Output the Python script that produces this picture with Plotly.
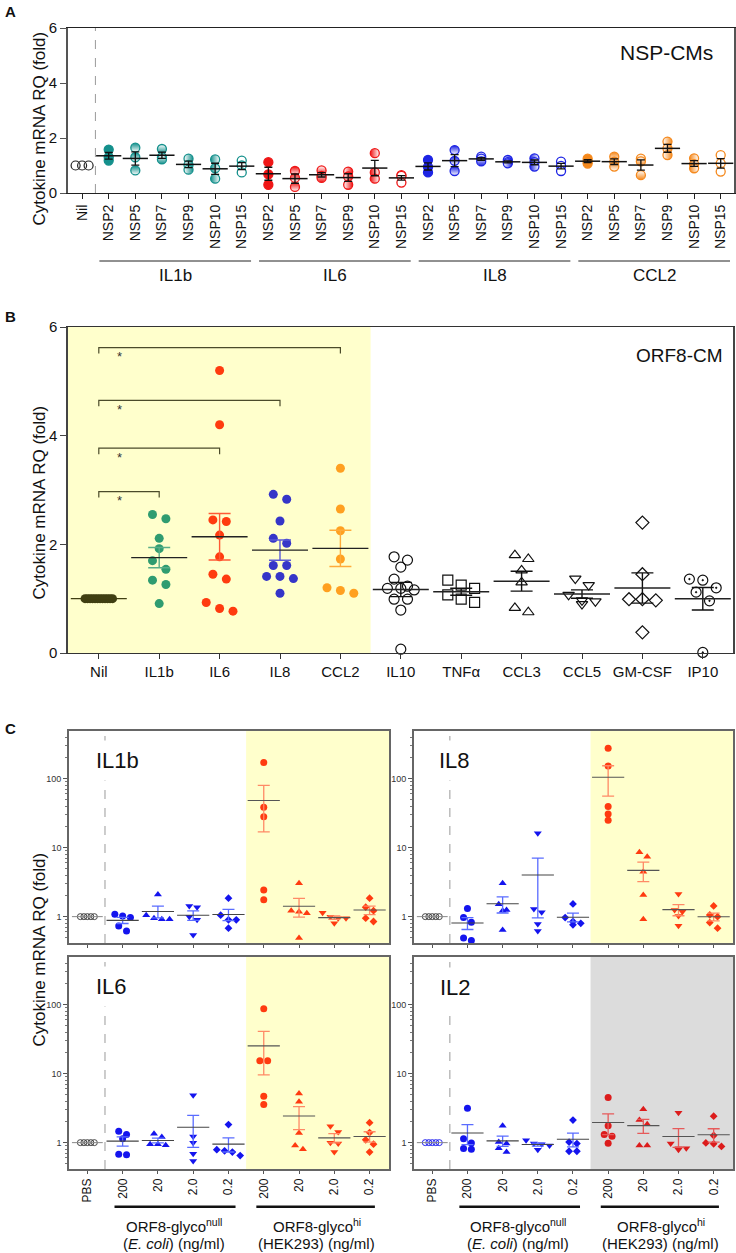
import numpy as np
import plotly.graph_objects as go

W, H = 736, 1253
FONT = "Liberation Sans, Arial, Helvetica, sans-serif"
NARROW = "Liberation Sans Narrow, Arial Narrow, Liberation Sans, sans-serif"

# ---------------- Panel A data ----------------
a_groups = ["IL1b", "IL6", "IL8", "CCL2"]
a_nsps = ["NSP2", "NSP5", "NSP7", "NSP9", "NSP10", "NSP15"]
a_nil = [1.0, 1.0, 1.0]
a_il1b = [[1.58, 1.30, 1.18], [1.65, 1.30, 0.82], [1.60, 1.30, 1.22],
          [1.25, 1.02, 0.85], [1.22, 0.90, 0.52], [1.18, 1.00, 0.75]]
a_il6 = [[1.12, 0.68, 0.30], [0.80, 0.55, 0.22], [0.82, 0.62, 0.55],
         [0.78, 0.60, 0.30], [1.45, 0.75, 0.52], [0.65, 0.62, 0.38]]
a_il8 = [[1.20, 0.95, 0.75], [1.56, 1.17, 0.80], [1.32, 1.25, 1.15],
         [1.20, 1.12, 1.08], [1.26, 1.12, 0.96], [1.14, 0.99, 0.80]]
a_ccl2 = [[1.25, 1.15, 1.07], [1.32, 1.14, 0.96], [1.25, 1.15, 0.65],
          [1.87, 1.62, 1.38], [1.26, 1.05, 0.90], [1.38, 1.08, 0.78]]
a_values = [a_il1b, a_il6, a_il8, a_ccl2]
a_colors = ["#14908c", "#ef1616", "#1d24e4", "#f5891d"]
a_fills = ["full", "top", "bottom", "left", "right", "open"]

# ---------------- Panel B data ----------------
b_labels = ["Nil", "IL1b", "IL6", "IL8", "CCL2", "IL10", "TNFα", "CCL3", "CCL5", "GM-CSF", "IP10"]
b_nil = [1.0] * 12
b_il1b = [2.55, 2.47, 2.11, 1.92, 1.70, 1.54, 1.34, 1.26, 0.91]
b_il6 = [5.20, 4.20, 2.45, 2.42, 2.17, 1.77, 1.45, 1.36, 0.93, 0.82, 0.77]
b_il8 = [2.92, 2.83, 2.43, 2.11, 2.02, 1.61, 1.61, 1.41, 1.41, 1.37, 1.10]
b_ccl2 = [3.40, 2.65, 2.25, 1.73, 1.20, 1.15, 1.10]
b_il10 = [1.77, 1.71, 1.58, 1.36, 1.23, 1.19, 1.19, 1.16, 0.99, 0.99, 0.79, 0.07]
b_tnfa = [1.34, 1.25, 1.19, 1.07, 0.99, 0.93]
b_ccl3 = [1.80, 1.73, 1.52, 1.30, 0.83, 0.75]
b_ccl5 = [1.37, 1.25, 1.07, 0.97, 0.95, 0.90]
b_gmcsf = [2.40, 1.45, 0.99, 0.97, 0.99, 0.38]
b_ip10 = [1.36, 1.34, 1.20, 1.12, 0.96, 0.01]
b_values = [b_nil, b_il1b, b_il6, b_il8, b_ccl2, b_il10, b_tnfa, b_ccl3, b_ccl5, b_gmcsf, b_ip10]
b_sig_heights = [2.97, 3.77, 4.65, 5.62]   # Nil vs IL1b, IL6, IL8, CCL2
b_sig_targets = [1, 2, 3, 4]

# ---------------- Panel C data ----------------
c_ticks = ["PBS", "200", "20", "2.0", "0.2", "200", "20", "2.0", "0.2"]
c_pbs = [1.0] * 5
c_il1b_ecoli = [[1.02, 0.97, 1.08, 0.62, 0.73], [2.10, 1.05, 0.92, 0.92, 0.95],
                [1.37, 1.43, 1.00, 0.90, 0.54], [1.85, 1.05, 0.90, 0.90, 0.68]]
c_il1b_hek = [[170.6, 38.5, 28.1, 2.44, 1.75], [3.05, 1.18, 1.12, 1.22, 0.49],
              [1.14, 0.95, 0.95, 1.00, 0.80], [1.85, 1.37, 1.22, 0.95, 0.85]]
c_il8_ecoli = [[1.31, 0.97, 0.83, 0.45, 0.49], [3.05, 1.25, 1.22, 1.51, 0.64],
               [16.2, 1.29, 1.16, 0.78, 0.62], [1.53, 0.97, 0.85, 0.76, 0.80]]
c_il8_hek = [[276.0, 152.6, 39.3, 30.8, 24.9], [8.57, 7.40, 4.49, 2.06, 0.92],
             [2.13, 1.18, 1.25, 1.02, 0.74], [1.43, 1.06, 1.00, 0.82, 0.68]]
c_il6_ecoli = [[1.31, 1.14, 1.46, 0.67, 0.68], [1.35, 1.21, 0.95, 0.92, 0.95],
               [4.88, 1.23, 1.00, 0.69, 0.54], [1.83, 0.79, 0.76, 0.73, 0.65]]
c_il6_hek = [[87.3, 15.4, 15.4, 4.72, 3.57], [5.17, 3.90, 1.38, 0.80, 0.91],
             [1.73, 1.43, 1.00, 0.97, 0.73], [1.95, 1.40, 1.10, 0.95, 0.73]]
c_il2_ecoli = [[3.15, 1.14, 0.99, 0.80, 0.82], [1.75, 0.97, 1.02, 0.83, 0.73],
               [1.08, 0.97, 0.95, 0.91, 0.79], [2.12, 1.02, 0.97, 0.75, 0.75]]
c_il2_hek = [[4.50, 1.75, 1.31, 1.24, 0.98], [3.04, 2.12, 1.85, 0.91, 0.91],
             [2.71, 0.97, 0.83, 0.83, 0.79], [2.42, 1.27, 0.99, 0.96, 0.88]]
c_panels = ["IL1b", "IL8", "IL6", "IL2"]
c_data = {"IL1b": (c_il1b_ecoli, c_il1b_hek), "IL8": (c_il8_ecoli, c_il8_hek),
          "IL6": (c_il6_ecoli, c_il6_hek), "IL2": (c_il2_ecoli, c_il2_hek)}
c_symbols = ["circle", "triangle-up", "triangle-down", "diamond"]
c_sizes = [7, 7, 7, 6]

# ---------------- geometry ----------------
CXR = (-0.52, 8.55)
CYR = (float(np.log10(0.415)), float(np.log10(490)))
GEOM = {
    "A": dict(ax="", x=(68, 734), y=(28, 193), xr=(-0.53, 24.5), yr=(0, 6), log=False),
    "B": dict(ax="2", x=(68, 733), y=(327, 653), xr=(-0.51, 10.5), yr=(0, 6), log=False),
    "IL1b": dict(ax="3", x=(69, 389), y=(731, 943), xr=CXR, yr=CYR, log=True),
    "IL8": dict(ax="4", x=(414, 733), y=(731, 943), xr=CXR, yr=CYR, log=True),
    "IL6": dict(ax="5", x=(69, 389), y=(957, 1169), xr=CXR, yr=CYR, log=True),
    "IL2": dict(ax="6", x=(414, 733), y=(957, 1169), xr=CXR, yr=CYR, log=True),
}


def fx(px):
    return px / W


def fy(py):
    return 1 - py / H


def ypix(g, v):
    top, bot = g["y"]
    r0, r1 = g["yr"]
    t = np.log10(v) if g["log"] else v
    return bot - (t - r0) / (r1 - r0) * (bot - top)


def xppu(g):
    return (g["x"][1] - g["x"][0]) / (g["xr"][1] - g["xr"][0])


def row_offsets(g, vals, s, thr):
    order = sorted(range(len(vals)), key=lambda i: -vals[i])
    rows = []
    for i in order:
        if rows and abs(ypix(g, vals[i]) - ypix(g, vals[rows[-1][0]])) < thr:
            rows[-1].append(i)
        else:
            rows.append([i])
    offs = [0.0] * len(vals)
    for r in rows:
        n = len(r)
        for k, i in enumerate(r):
            offs[i] = (k - (n - 1) / 2) * s / xppu(g)
    return offs


fig = go.Figure()


def add_points(p, center, vals, marker, s, thr):
    g = GEOM[p]
    offs = row_offsets(g, vals, s, thr)
    fig.add_trace(go.Scatter(x=[center + o for o in offs], y=vals, mode="markers",
                             marker=marker, cliponaxis=False, hoverinfo="skip",
                             xaxis="x" + g["ax"], yaxis="y" + g["ax"]))


def add_mean(p, center, vals, size, cap, lcol, ecol, lw=1.3, ew=1.3):
    g = GEOM[p]
    v = np.asarray(vals, float)
    m = v.mean()
    sem = v.std(ddof=1) / np.sqrt(len(v))
    fig.add_trace(go.Scatter(x=[center], y=[m], mode="markers",
                             marker=dict(symbol="line-ew", size=size, color=lcol,
                                         line=dict(color=lcol, width=lw)),
                             error_y=dict(type="data", array=[sem], symmetric=True,
                                          width=cap, thickness=ew, color=ecol),
                             cliponaxis=False, hoverinfo="skip",
                             xaxis="x" + g["ax"], yaxis="y" + g["ax"]))


def a_marker(color, style):
    m = dict(symbol="circle", size=9, line=dict(color=color, width=1.3))
    if style == "full":
        m["color"] = color
    elif style == "open":
        m["color"] = "white"
    elif style == "top":
        m["color"] = color
        m["gradient"] = dict(type="vertical", color="white")
    elif style == "bottom":
        m["color"] = "white"
        m["gradient"] = dict(type="vertical", color=color)
    elif style == "left":
        m["color"] = "white"
        m["gradient"] = dict(type="horizontal", color=color)
    else:
        m["color"] = color
        m["gradient"] = dict(type="horizontal", color="white")
    return m


# ---------------- Panel A traces ----------------
add_points("A", 0, a_nil, dict(symbol="circle-open", size=9, color="#222", line=dict(width=1.2)), 6.5, 0.5)
for gi, (vals_g, col) in enumerate(zip(a_values, a_colors)):
    for j, vals in enumerate(vals_g):
        c = 1 + 6 * gi + j
        add_points("A", c, vals, a_marker(col, a_fills[j]), 6.5, 0.5)
        add_mean("A", c, vals, 18, 4, "#111", "#111", 1.5, 1.3)

# ---------------- Panel B traces ----------------
b_markers = [
    dict(symbol="circle", size=9, color="#403f12"),
    dict(symbol="circle", size=9, color="#2f9c70"),
    dict(symbol="circle", size=9, color="#ff3b0f"),
    dict(symbol="circle", size=9, color="#3535c8"),
    dict(symbol="circle", size=9, color="#ffa020"),
    dict(symbol="circle-open", size=10, color="#111", line=dict(width=1.2)),
    dict(symbol="square-open", size=10, color="#111", line=dict(width=1.2)),
    dict(symbol="triangle-up-open", size=10, color="#111", line=dict(width=1.2)),
    dict(symbol="triangle-down-open", size=10, color="#111", line=dict(width=1.2)),
    dict(symbol="diamond-open", size=10, color="#111", line=dict(width=1.2)),
    dict(symbol="circle-open-dot", size=10, color="#111", line=dict(width=1.2)),
]
b_spacing = [2.5] + [13.4] * 10
b_err_colors = ["#403f12", "#5aae88", "#ff5a35", "#5a5ad6", "#ffab3a"] + ["#111"] * 6
b_mean_colors = ["#403f12"] + ["#222"] * 10
for i, vals in enumerate(b_values):
    add_points("B", i, vals, b_markers[i], b_spacing[i], 9)
    add_mean("B", i, vals, 40, 11, b_mean_colors[i], b_err_colors[i], 1.4, 1.4)

# ---------------- Panel C traces ----------------
c_blue = "#1414ee"
c_blue_err = "#5a6cff"
for p in c_panels:
    ecoli, hek = c_data[p]
    hek_col = "#dc1c1c" if p == "IL2" else "#ff3b10"
    hek_err = "#e65a5a" if p == "IL2" else "#ff8a66"
    pbs_col = c_blue if p == "IL2" else "#333"
    add_points(p, 0, c_pbs, dict(symbol="circle-open", size=6, color=pbs_col, line=dict(width=0.9)), 3.5, 0.5)
    add_mean(p, 0, c_pbs, 22, 0, "#888", "#888", 1.0, 0.5)
    for k in range(4):
        add_points(p, 1 + k, ecoli[k], dict(symbol=c_symbols[k], size=c_sizes[k], color=c_blue, line=dict(width=0)), 7.8, 6)
        add_mean(p, 1 + k, ecoli[k], 23, 6, "#444", c_blue_err, 1.1, 1.3)
    for k in range(4):
        add_points(p, 5 + k, hek[k], dict(symbol=c_symbols[k], size=c_sizes[k], color=hek_col, line=dict(width=0)), 7.8, 6)
        add_mean(p, 5 + k, hek[k], 23, 6, "#555", hek_err, 1.1, 1.3)

# ---------------- shapes ----------------
shapes = []
shapes.append(dict(type="line", xref="x", yref="y domain", x0=0.5, x1=0.5, y0=0, y1=1,
                   line=dict(color="#9a9a9a", width=1, dash="dash")))
for gi in range(4):
    shapes.append(dict(type="line", xref="x", yref="paper", x0=6 * gi + 0.65, x1=6 * gi + 6.35,
                       y0=fy(261), y1=fy(261), line=dict(color="#222", width=1)))
shapes.append(dict(type="rect", xref="x2", yref="y2 domain", x0=GEOM["B"]["xr"][0], x1=4.5, y0=0, y1=1,
                   fillcolor="#ffffcc", line=dict(width=0), layer="below"))
tick = 0.11
for h, j in zip(b_sig_heights, b_sig_targets):
    shapes.append(dict(type="path", xref="x2", yref="y2",
                       path=f"M 0 {h - tick} L 0 {h} L {j} {h} L {j} {h - tick}",
                       line=dict(color="#4b4b2a", width=1.2)))
for p in c_panels:
    g = GEOM[p]
    ax = g["ax"]
    fill = "#dcdcdc" if p == "IL2" else "#ffffcc"
    shapes.append(dict(type="rect", xref="x" + ax, yref="y" + ax + " domain", x0=4.5, x1=g["xr"][1],
                       y0=0, y1=1, fillcolor=fill, line=dict(width=0), layer="below"))
    shapes.append(dict(type="line", xref="x" + ax, yref="y" + ax + " domain", x0=0.5, x1=0.5, y0=0, y1=1,
                       line=dict(color="#9a9a9a", width=1, dash="dash")))
for p in ["IL6", "IL2"]:
    ax = GEOM[p]["ax"]
    for x0, x1 in [(0.77, 4.2), (4.79, 8.15)]:
        shapes.append(dict(type="line", xref="x" + ax, yref="paper", x0=x0, x1=x1,
                           y0=fy(1206.7), y1=fy(1206.7), line=dict(color="#111", width=2.5)))

# ---------------- annotations ----------------
ann = []


def note(x, y, t, size, xref="paper", yref="paper", xanchor="center", angle=0, bg=None, pad=1, color="#111", family=FONT):
    d = dict(x=x, y=y, xref=xref, yref=yref, text=t, showarrow=False, xanchor=xanchor, yanchor="middle",
             font=dict(size=size, color=color, family=family), textangle=angle, borderpad=pad)
    if bg:
        d["bgcolor"] = bg
    ann.append(d)


note(fx(3), fy(12), "<b>A</b>", 15, xanchor="left")
note(fx(3), fy(316), "<b>B</b>", 15, xanchor="left")
note(fx(3), fy(728), "<b>C</b>", 15, xanchor="left")
for yc in [129, 503, 950]:
    note(fx(38.5), fy(yc), "Cytokine mRNA RQ (fold)", 17, angle=-90)
note(fx(715), fy(52), "NSP-CMs", 21, xanchor="right")
note(fx(725), fy(355), "ORF8-CM", 19, xanchor="right")
for gi, name in enumerate(a_groups):
    note(6 * gi + 3.5, fy(276), name, 17, xref="x")
for h in b_sig_heights:
    note(0.35, h - 0.17, "*", 13, xref="x2", yref="y2", color="#333")
c_label_pos = {"IL1b": (88, 761), "IL8": (431, 761), "IL6": (88, 986), "IL2": (432, 987)}
for p in c_panels:
    px, py = c_label_pos[p]
    note(fx(px), fy(py), p, 22, xanchor="left", bg="white", pad=7)
for p in ["IL6", "IL2"]:
    ax = GEOM[p]["ax"]
    note(2.45, fy(1225), "ORF8-glyco<sup>null</sup>", 15, xref="x" + ax)
    note(2.45, fy(1243), "(<i>E. coli</i>) (ng/ml)", 15, xref="x" + ax)
    note(6.5, fy(1225), "ORF8-glyco<sup>hi</sup>", 15, xref="x" + ax)
    note(6.5, fy(1243), "(HEK293) (ng/ml)", 15, xref="x" + ax)

# ---------------- axes ----------------
layout = dict(width=W, height=H, margin=dict(l=0, r=0, t=0, b=0), autosize=False, showlegend=False,
              paper_bgcolor="white", plot_bgcolor="white", template="none",
              font=dict(family=FONT, color="#111"), shapes=shapes, annotations=ann)


def base_x(g):
    return dict(domain=[fx(g["x"][0]), fx(g["x"][1])], range=list(g["xr"]), anchor="y" + g["ax"],
                showgrid=False, zeroline=False, tickmode="array", ticks="outside", fixedrange=True)


def base_y(g):
    return dict(domain=[fy(g["y"][1]), fy(g["y"][0])], range=list(g["yr"]), anchor="x" + g["ax"],
                showgrid=False, zeroline=False, tickmode="array", ticks="outside", fixedrange=True)


gA = GEOM["A"]
xa = base_x(gA)
xa.update(tickvals=list(range(25)), ticktext=["Nil"] + a_nsps * 4, tickangle=-90, ticklen=5,
          tickcolor="#222", tickfont=dict(size=14), showline=True, linecolor="#222", linewidth=1.2, mirror=True)
ya = base_y(gA)
ya.update(tickvals=[0, 2, 4, 6], ticklen=6, tickcolor="#555", tickfont=dict(size=15),
          showline=True, linecolor="#555", linewidth=1.6, mirror=True)
layout["xaxis"] = xa
layout["yaxis"] = ya

gB = GEOM["B"]
xb = base_x(gB)
xb.update(tickvals=list(range(11)), ticktext=b_labels, tickangle=0, ticklen=5, tickcolor="#333",
          tickfont=dict(size=15), showline=True, linecolor="#333", linewidth=1.3, mirror=True)
yb = base_y(gB)
yb.update(tickvals=[0, 2, 4, 6], ticklen=6, tickcolor="#444", tickfont=dict(size=15),
          showline=True, linecolor="#444", linewidth=1.5, mirror=True)
layout["xaxis2"] = xb
layout["yaxis2"] = yb

minor_vals = [0.5, 0.6, 0.7, 0.8, 0.9] + [float(v) for v in range(2, 10)] + \
             [float(v) for v in range(20, 100, 10)] + [200.0, 300.0, 400.0]
for p in c_panels:
    g = GEOM[p]
    bottom = p in ("IL6", "IL2")
    xc = base_x(g)
    xc.update(tickvals=list(range(9)), ticktext=c_ticks, showticklabels=bottom, tickangle=-90, ticklen=3,
              tickcolor="#555", tickfont=dict(size=12), showline=True, linecolor="#666", linewidth=1.6, mirror=True)
    yc = base_y(g)
    yc.update(type="log", tickvals=[1, 10, 100], ticktext=["1", "10", "100"], ticklen=4, tickcolor="#555",
              tickfont=dict(size=9, family=NARROW, color="#333"), showline=True, linecolor="#666",
              linewidth=1.6, mirror=True,
              minor=dict(tickmode="array", tickvals=minor_vals, ticks="outside", ticklen=2, tickcolor="#777"))
    layout["xaxis" + g["ax"]] = xc
    layout["yaxis" + g["ax"]] = yc

fig.update_layout(**layout)
fig.write_html("out.html", include_plotlyjs=True, config={"displayModeBar": False},
               post_script="document.body.style.margin='0';")
